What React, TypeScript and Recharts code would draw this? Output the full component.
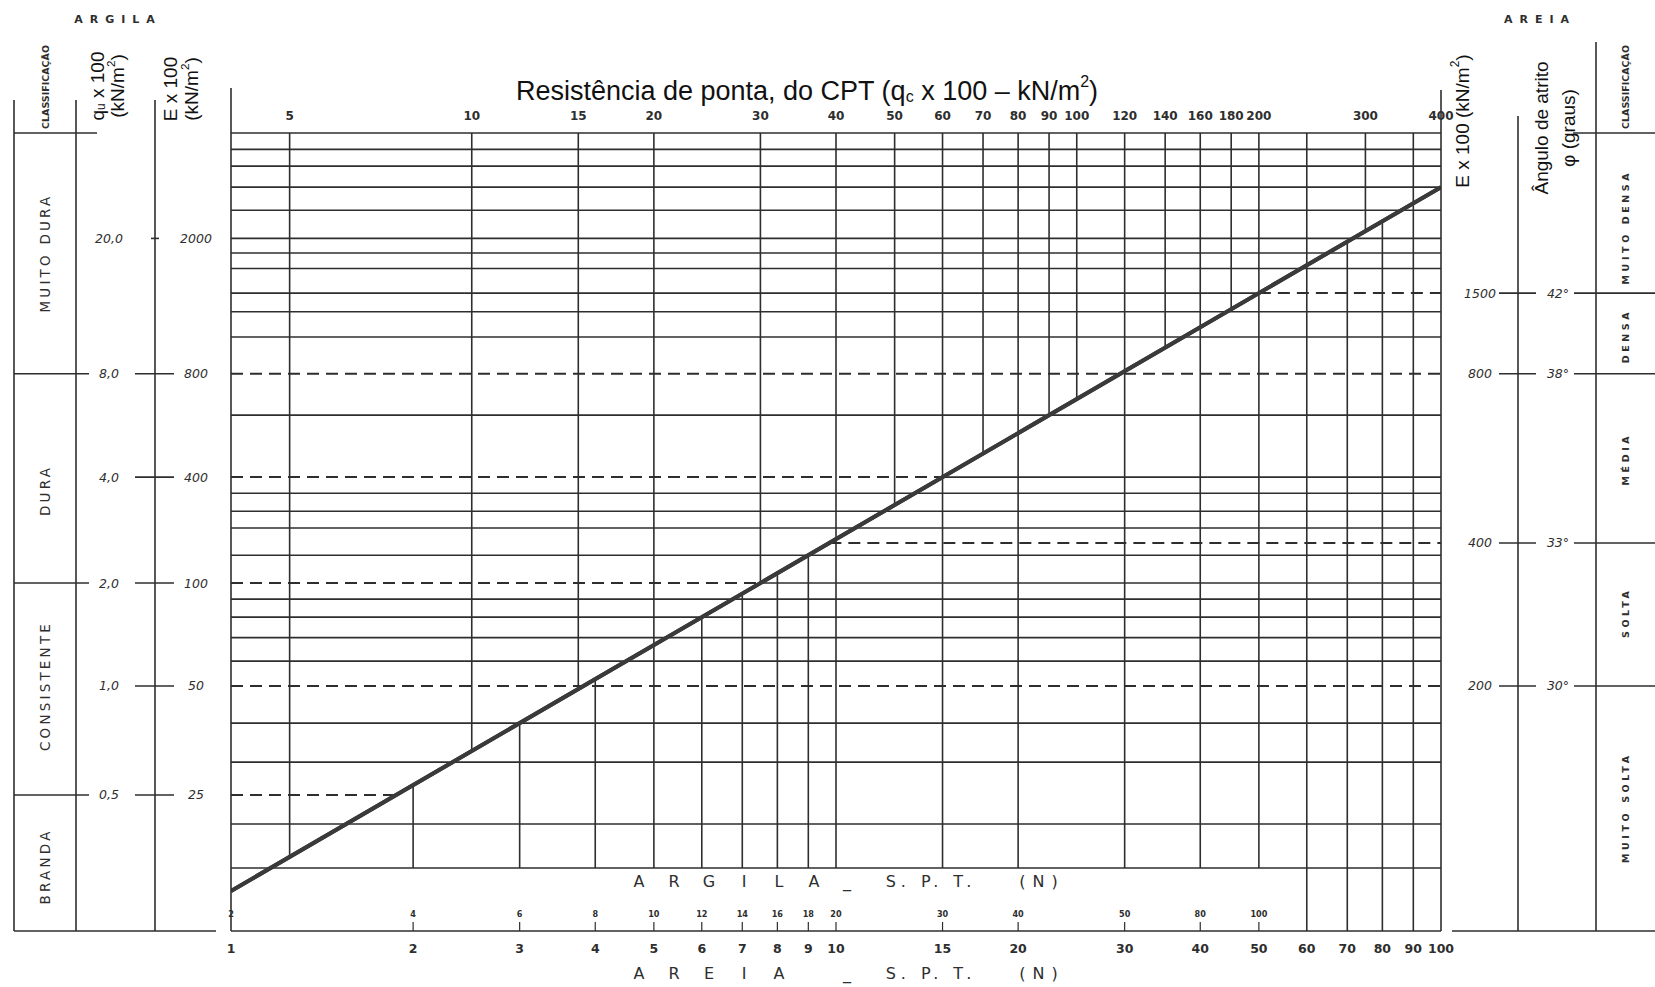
import React from 'react'
import { ComposedChart, Line, XAxis, YAxis, ReferenceLine, Label } from 'recharts'

const INK = '#2e2e2e'
const NUM_FONT = '"DejaVu Sans", sans-serif'
const ARIAL = '"Liberation Sans", Arial, sans-serif'

// eixo superior: resistencia de ponta qc (x 100 kN/m2)
const qcTicks = [5, 10, 15, 20, 30, 40, 50, 60, 70, 80, 90, 100, 120, 140, 160, 180, 200, 300, 400]
const qcVerticals = [5, 10, 15, 20, 30, 40, 50, 60, 70, 80, 90, 100, 120, 140, 160, 180, 200, 300]

// eixo inferior: SPT areia (N) e, acima, SPT argila
const sptTicks = [1, 2, 3, 4, 5, 6, 7, 8, 9, 10, 15, 20, 30, 40, 50, 60, 70, 80, 90, 100]
const sptArgilaLabels = ['2', '4', '6', '8', '10', '12', '14', '16', '18', '20', '30', '40', '50', '80', '100', '', '', '', '', '']
const sptShortLines = [2, 3, 4, 5, 6, 7, 8, 9, 10, 15, 20, 30, 40, 50]
const sptLongLines = [70, 80]
const sptFullLines = [60, 90]

// reta de correlacao: qc (topo), N (base) e qc equivalente no eixo vertical
const correlation = [
  { qc: 4, n: 1, v: 4 },
  { qc: 400, n: 100, v: 400 },
]
const qcPerN = 4

// linhas horizontais, em qc equivalente
const hSolid = [512, 459, 400, 344, 286, 260, 235, 177, 150, 90, 54, 48, 43, 36, 27, 24, 21, 18, 12, 9.3, 6.2]
const argilaBase = 4.65
const hDashFull = [118, 15.3]
const hDashLeftSolidRight = [60, 30]
const hDashLeftOnly = [7.5]
const hSolidLeftDashRight = [200]
const hDashRightOnly = [39]

// argila (lado esquerdo)
const quPos = [286, 118, 60, 30, 15.3, 7.5]
const quLabels = ['20,0', '8,0', '4,0', '2,0', '1,0', '0,5']
const eArgilaLabels = ['2000', '800', '400', '100', '50', '25']
const argilaBounds = [118, 30, 7.5]
const argilaClassPos = [260, 55, 15.3, 4.7]
const argilaClasses = ['MUITO DURA', 'DURA', 'CONSISTENTE', 'BRANDA']

// areia (lado direito)
const areiaPos = [200, 118, 39, 15.3]
const eAreiaLabels = ['1500', '800', '400', '200']
const phiLabels = ['42°', '38°', '33°', '30°']
const areiaClassPos = [308, 151, 67.5, 24.7, 6.9]
const areiaClasses = ['MUITO DENSA', 'DENSA', 'MÉDIA', 'SOLTA', 'MUITO SOLTA']

const qcDomain = [4, 400]
const sptDomain = [1, 100]
const vDomain = [3.08, 570]

const solid = { stroke: INK, strokeWidth: 1.6 }
const dashed = { stroke: INK, strokeWidth: 2, strokeDasharray: '12 7' }

const numText = {
  fontFamily: NUM_FONT,
  fontSize: 12.5,
  fill: INK,
  textAnchor: 'middle' as const,
  dominantBaseline: 'central' as const,
}

function rot(x: number, y: number) {
  return `translate(${x},${y}) rotate(-90)`
}

function QcTick({ x, y, payload }: any) {
  return (
    <text x={x} y={y - 17} {...numText} fontWeight="bold" fontSize={12}>
      {payload.value}
    </text>
  )
}

function SptTick({ x, y, payload, index }: any) {
  const n = payload.value
  const i = typeof index === 'number' ? index : sptTicks.indexOf(n)
  const arg = sptArgilaLabels[i]
  return (
    <g>
      {sptShortLines.includes(n) && <line x1={x} x2={x} y1={y} y2={y - 9} stroke={INK} strokeWidth={1.2} />}
      <text x={x} y={y + 17} {...numText} fontWeight="bold" fontSize={12.5}>
        {n}
      </text>
      {arg && (
        <text
          x={x}
          y={y - 17}
          {...numText}
          fontFamily='"DejaVu Sans Condensed", "DejaVu Sans", sans-serif'
          fontWeight="bold"
          fontSize={9}
        >
          {arg}
        </text>
      )}
    </g>
  )
}

function EArgilaTick({ x, y, payload }: any) {
  const i = quPos.indexOf(payload.value)
  return (
    <text x={x - 35} y={y} {...numText} fontStyle="italic">
      {eArgilaLabels[i]}
    </text>
  )
}

function QuTick({ x, y, payload }: any) {
  const i = quPos.indexOf(payload.value)
  const short = i === 0
  return (
    <g>
      <line x1={short ? x - 4 : x - 20} x2={short ? x + 4 : x + 19} y1={y} y2={y} {...solid} />
      <text x={x - 46} y={y} {...numText} fontStyle="italic">
        {quLabels[i]}
      </text>
    </g>
  )
}

function ArgilaClassTick({ x, y, payload }: any) {
  const v = payload.value
  if (argilaBounds.includes(v)) return <line x1={x - 62} x2={x + 13} y1={y} y2={y} {...solid} />
  const i = argilaClassPos.indexOf(v)
  return (
    <text transform={rot(x - 31, y)} {...numText} fontSize={13.5} letterSpacing={3.2}>
      {argilaClasses[i]}
    </text>
  )
}

function EAreiaTick({ x, y, payload }: any) {
  const i = areiaPos.indexOf(payload.value)
  return (
    <g>
      <line x1={x + 58} x2={x + 95} y1={y} y2={y} {...solid} />
      <text x={x + 39} y={y} {...numText} fontStyle="italic">
        {eAreiaLabels[i]}
      </text>
    </g>
  )
}

function PhiTick({ x, y, payload }: any) {
  const i = areiaPos.indexOf(payload.value)
  return (
    <g>
      <text x={x + 40} y={y} {...numText} fontStyle="italic">
        {phiLabels[i]}
      </text>
      <line x1={x + 56} x2={x + 140} y1={y} y2={y} {...solid} />
    </g>
  )
}

function AreiaClassTick({ x, y, payload }: any) {
  const i = areiaClassPos.indexOf(payload.value)
  return (
    <text transform={rot(x + 29, y)} {...numText} fontSize={9.5} fontWeight="bold" letterSpacing={3.6}>
      {areiaClasses[i]}
    </text>
  )
}

function Unit({ x, y, size }: { x: number; y: number; size: number }) {
  return (
    <text transform={rot(x, y)} fontFamily={ARIAL} fontSize={size} fill="#111" textAnchor="middle" dominantBaseline="central">
      (kN/m
      <tspan dy={-7} fontSize={size * 0.62}>
        2
      </tspan>
      <tspan dy={7}>)</tspan>
    </text>
  )
}

function SpacedWord({ word, x, y, step }: { word: string; x: number; y: number; step: number }) {
  return (
    <g>
      {word.split('').map((c, i) => (
        <text key={i} x={x + i * step} y={y} {...numText} fontSize={16}>
          {c}
        </text>
      ))}
    </g>
  )
}

function SptCaption({ word, x, y }: { word: string; x: number; y: number }) {
  return (
    <g>
      <SpacedWord word={word} x={x} y={y} step={35} />
      <text x={x + 208} y={y} {...numText} fontSize={16}>
        _
      </text>
      <text x={x + 292} y={y} {...numText} fontSize={16} letterSpacing={5}>
        S. P. T.
      </text>
      <text x={x + 403} y={y} {...numText} fontSize={16} letterSpacing={7}>
        (N)
      </text>
    </g>
  )
}

const TitleLabel = ({ viewBox }: any) => {
  const { x, y } = viewBox
  return (
    <text x={x + 576} y={y + 3} fontFamily={ARIAL} fontSize={27} fill="#111" textAnchor="middle" dominantBaseline="central">
      Resistência de ponta, do CPT (q
      <tspan dy={5} fontSize={16}>
        c
      </tspan>
      <tspan dy={-5}> x 100 – kN/m</tspan>
      <tspan dy={-10} fontSize={16}>
        2
      </tspan>
      <tspan dy={10}>)</tspan>
    </text>
  )
}

const BottomCaption = ({ viewBox }: any) => {
  const { x, y } = viewBox
  return (
    <g>
      <SptCaption word="ARGILA" x={x + 408} y={y - 50} />
      <SptCaption word="AREIA" x={x + 408} y={y + 42} />
    </g>
  )
}

const EArgilaHeader = ({ viewBox }: any) => {
  const { x, y, width } = viewBox
  return (
    <g>
      <line x1={x + width} x2={x + width} y1={y - 45} y2={y} {...solid} />
      <text transform={rot(x + 15, y - 44)} fontFamily={ARIAL} fontSize={19} fill="#111" textAnchor="middle" dominantBaseline="central">
        E x 100
      </text>
      <Unit x={x + 36} y={y - 44} size={19} />
    </g>
  )
}

const QuHeader = ({ viewBox }: any) => {
  const { x, y, width } = viewBox
  return (
    <g>
      <line x1={x + width} x2={x + width} y1={y - 33} y2={y} {...solid} />
      <text transform={rot(x + 21, y - 47)} fontFamily={ARIAL} fontSize={19} fill="#111" textAnchor="middle" dominantBaseline="central">
        q
        <tspan dy={4} fontSize={12}>
          u
        </tspan>
        <tspan dy={-4}> x 100</tspan>
      </text>
      <Unit x={x + 41} y={y - 47} size={19} />
    </g>
  )
}

const ArgilaClassHeader = ({ viewBox }: any) => {
  const { x, y, width, height } = viewBox
  return (
    <g>
      <line x1={x} x2={x} y1={y - 33} y2={y + height} {...solid} />
      <line x1={x + width} x2={x + width} y1={y - 33} y2={y} {...solid} />
      <line x1={x} x2={x + 83} y1={y} y2={y} {...solid} />
      <line x1={x} x2={x + 202} y1={y + height} y2={y + height} {...solid} />
      <text transform={rot(x + 31, y - 46)} {...numText} fontSize={9.5} fontWeight="bold">
        CLASSIFICAÇÃO
      </text>
      <text x={x + 104} y={y - 114} {...numText} fontSize={11} fontWeight="bold" letterSpacing={7}>
        ARGILA
      </text>
    </g>
  )
}

const EAreiaHeader = ({ viewBox }: any) => {
  const { x, y } = viewBox
  return (
    <g>
      <line x1={x} x2={x} y1={y - 43} y2={y} {...solid} />
      <text transform={rot(x + 21, y - 12)} fontFamily={ARIAL} fontSize={19} fill="#111" textAnchor="middle" dominantBaseline="central">
        E x 100 (kN/m
        <tspan dy={-7} fontSize={12}>
          2
        </tspan>
        <tspan dy={7}>)</tspan>
      </text>
    </g>
  )
}

const PhiHeader = ({ viewBox }: any) => {
  const { x, y, height } = viewBox
  return (
    <g>
      <line x1={x} x2={x} y1={y - 17} y2={y} {...solid} />
      <line x1={x - 66} x2={x + 137} y1={y + height} y2={y + height} {...solid} />
      <text transform={rot(x + 23, y - 5)} fontFamily={ARIAL} fontSize={19} fill="#111" textAnchor="middle" dominantBaseline="central">
        Ângulo de atrito
      </text>
      <text transform={rot(x + 50, y - 5)} fontFamily={ARIAL} fontSize={19} fill="#111" textAnchor="middle" dominantBaseline="central">
        φ (graus)
      </text>
    </g>
  )
}

const AreiaClassHeader = ({ viewBox }: any) => {
  const { x, y, width } = viewBox
  return (
    <g>
      <line x1={x} x2={x} y1={y - 91} y2={y} {...solid} />
      <line x1={x - 23} x2={x + width} y1={y} y2={y} {...solid} />
      <text transform={rot(x + 29, y - 46)} {...numText} fontSize={9.5} fontWeight="bold">
        CLASSIFICAÇÃO
      </text>
      <text x={x - 56} y={y - 114} {...numText} fontSize={11} fontWeight="bold" letterSpacing={7}>
        AREIA
      </text>
    </g>
  )
}

// eixos verticais: ids ordenados de dentro para fora
const MAIN_Y = 'a1E'
const ids = { xAxisId: 'qc', yAxisId: MAIN_Y }
const sptIds = { xAxisId: 'spt', yAxisId: MAIN_Y }

const yCommon = {
  type: 'number' as const,
  scale: 'log' as const,
  domain: vDomain,
  allowDataOverflow: true,
  interval: 0 as const,
  tickLine: false,
  tickSize: 0,
  tickMargin: 0,
  axisLine: solid,
}

export default function App() {
  const top = vDomain[1]
  const bottom = vDomain[0]
  return (
    <div style={{ position: 'absolute', left: 0, top: 0, width: 1655, height: 987, background: '#fff' }}>
      <ComposedChart width={1655} height={987} margin={{ top: 88, right: 0, bottom: 0, left: 14 }}>
        <XAxis
          xAxisId="qc"
          dataKey="qc"
          type="number"
          scale="log"
          domain={qcDomain}
          allowDataOverflow
          orientation="top"
          height={45}
          ticks={qcTicks}
          interval={0}
          tick={(p: any) => <QcTick {...p} />}
          tickLine={false}
          tickSize={0}
          tickMargin={0}
          axisLine={solid}
        >
          <Label content={TitleLabel} />
        </XAxis>
        <XAxis
          xAxisId="spt"
          dataKey="n"
          type="number"
          scale="log"
          domain={sptDomain}
          allowDataOverflow
          orientation="bottom"
          height={56}
          ticks={sptTicks}
          interval={0}
          tick={(p: any) => <SptTick {...p} />}
          tickLine={false}
          tickSize={0}
          tickMargin={0}
          axisLine={solid}
        >
          <Label content={BottomCaption} />
        </XAxis>

        <YAxis yAxisId="a1E" orientation="left" width={76} ticks={quPos} tick={(p: any) => <EArgilaTick {...p} />} {...yCommon}>
          <Label content={EArgilaHeader} />
        </YAxis>
        <YAxis yAxisId="a2qu" orientation="left" width={79} ticks={quPos} tick={(p: any) => <QuTick {...p} />} {...yCommon}>
          <Label content={QuHeader} />
        </YAxis>
        <YAxis
          yAxisId="a3cls"
          orientation="left"
          width={62}
          ticks={[...argilaBounds, ...argilaClassPos]}
          tick={(p: any) => <ArgilaClassTick {...p} />}
          {...yCommon}
        >
          <Label content={ArgilaClassHeader} />
        </YAxis>

        <YAxis yAxisId="b1E" orientation="right" width={77} ticks={areiaPos} tick={(p: any) => <EAreiaTick {...p} />} {...yCommon}>
          <Label content={EAreiaHeader} />
        </YAxis>
        <YAxis yAxisId="b2phi" orientation="right" width={78} ticks={areiaPos} tick={(p: any) => <PhiTick {...p} />} {...yCommon}>
          <Label content={PhiHeader} />
        </YAxis>
        <YAxis
          yAxisId="b3cls"
          orientation="right"
          width={59}
          ticks={areiaClassPos}
          tick={(p: any) => <AreiaClassTick {...p} />}
          {...yCommon}
        >
          <Label content={AreiaClassHeader} />
        </YAxis>

        {/* linhas horizontais */}
        {hSolid.map((v) => (
          <ReferenceLine key={`hs-${v}`} {...ids} y={v} {...solid} />
        ))}
        <ReferenceLine {...ids} y={argilaBase} {...solid} />
        {hDashFull.map((v) => (
          <ReferenceLine key={`hd-${v}`} {...ids} y={v} {...dashed} />
        ))}
        {hDashLeftSolidRight.map((v) => (
          <React.Fragment key={`hlr-${v}`}>
            <ReferenceLine {...ids} segment={[{ x: qcDomain[0], y: v }, { x: v, y: v }]} {...dashed} />
            <ReferenceLine {...ids} segment={[{ x: v, y: v }, { x: qcDomain[1], y: v }]} {...solid} />
          </React.Fragment>
        ))}
        {hDashLeftOnly.map((v) => (
          <ReferenceLine key={`hl-${v}`} {...ids} segment={[{ x: qcDomain[0], y: v }, { x: v, y: v }]} {...dashed} />
        ))}
        {hSolidLeftDashRight.map((v) => (
          <React.Fragment key={`hsr-${v}`}>
            <ReferenceLine {...ids} segment={[{ x: qcDomain[0], y: v }, { x: v, y: v }]} {...solid} />
            <ReferenceLine {...ids} segment={[{ x: v, y: v }, { x: qcDomain[1], y: v }]} {...dashed} />
          </React.Fragment>
        ))}
        {hDashRightOnly.map((v) => (
          <ReferenceLine key={`hr-${v}`} {...ids} segment={[{ x: v, y: v }, { x: qcDomain[1], y: v }]} {...dashed} />
        ))}

        {/* verticais: qc acima da reta, SPT abaixo */}
        {qcVerticals.map((q) => (
          <ReferenceLine key={`vq-${q}`} {...ids} segment={[{ x: q, y: top }, { x: q, y: q }]} {...solid} />
        ))}
        {sptShortLines.map((n) => (
          <ReferenceLine key={`vs-${n}`} {...sptIds} segment={[{ x: n, y: n * qcPerN }, { x: n, y: argilaBase }]} {...solid} />
        ))}
        {sptLongLines.map((n) => (
          <ReferenceLine key={`vl-${n}`} {...sptIds} segment={[{ x: n, y: n * qcPerN }, { x: n, y: bottom }]} {...solid} />
        ))}
        {sptFullLines.map((n) => (
          <ReferenceLine key={`vf-${n}`} {...sptIds} x={n} {...solid} />
        ))}

        <Line
          xAxisId="spt"
          yAxisId={MAIN_Y}
          data={correlation}
          dataKey="v"
          type="linear"
          stroke="#3a3a3a"
          strokeWidth={4}
          dot={false}
          activeDot={false}
          isAnimationActive={false}
        />
        <Line
          {...ids}
          data={correlation}
          dataKey="v"
          type="linear"
          stroke="#3a3a3a"
          strokeWidth={4}
          dot={false}
          activeDot={false}
          isAnimationActive={false}
        />
      </ComposedChart>
    </div>
  )
}
